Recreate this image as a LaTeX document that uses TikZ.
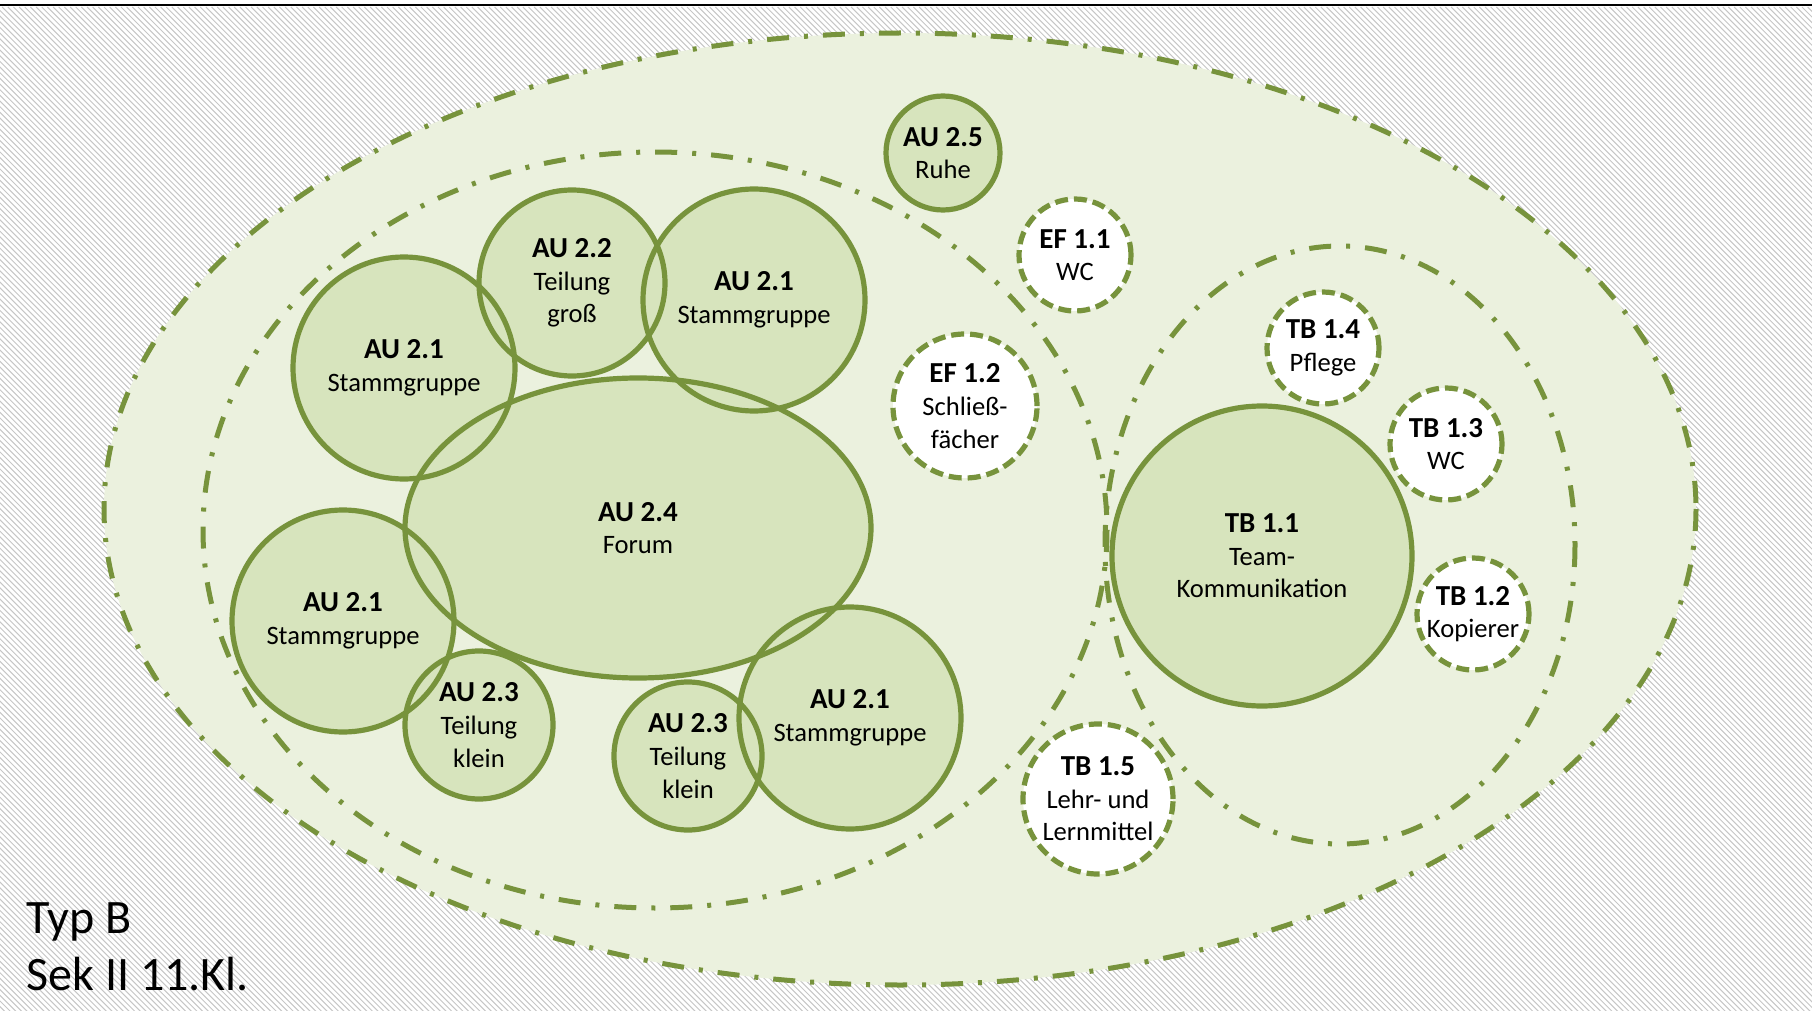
\documentclass[tikz,border=0pt]{standalone}
\usepackage{fontspec}
\setmainfont{Carlito}
\usetikzlibrary{shapes.geometric}

\definecolor{leafline}{HTML}{77933C}
\definecolor{leaffill}{HTML}{D7E4BD}
\definecolor{areafill}{HTML}{EBF1DE}
\newcommand\roomfont{\fontsize{13.3}{16.3}\selectfont}
\newcommand\hd[1]{{\fontsize{14.5}{16.3}\selectfont\bfseries #1}}

\tikzset{
  area/.style = {draw=leafline, line width=2.5pt, dash pattern=on 11pt off 7.5pt on 2pt off 7.5pt},
  room/.style = {circle, draw=leafline, line width=2.6pt, align=center, inner sep=0pt, font=\roomfont},
  aux/.style  = {room, fill=white, dash pattern=on 6.5pt off 3pt},
  hatch/.style = {gray!45, line width=0.5pt}
}

% name/x/y/radius/text
\def\rooms{au25/943/153/57/{\hd{AU 2.5}\\Ruhe},
  au22/572/283/93/{\hd{AU 2.2}\\Teilung\\groß},
  au21a/754/300/111/{\hd{AU 2.1}\\Stammgruppe},
  au21b/404/368/111/{\hd{AU 2.1}\\Stammgruppe},
  au21c/343/621/111/{\hd{AU 2.1}\\Stammgruppe},
  au23a/479/725/74/{\hd{AU 2.3}\\Teilung\\klein},
  au23b/688/756/74/{\hd{AU 2.3}\\Teilung\\klein},
  au21d/850/718/111/{\hd{AU 2.1}\\Stammgruppe},
  tb11/1262/556/150/{\hd{TB 1.1}\\Team-\\Kommunikation}}

\begin{document}
\begin{tikzpicture}[x=0.5pt, y=-0.5pt]
  \useasboundingbox (0,0) rectangle (1812,1011);
  % hatched ground
  \begin{scope}
    \clip (0,7) rectangle (1812,1011);
    \foreach \a in {-1011,-1005.34,...,1812}
      \draw[hatch] (\a,7) -- ++(1011,1011);
  \end{scope}
  \draw[line width=1.3pt] (0,5) -- (1812,5);

  % zones
  \path[area, fill=areafill] (900,509) ellipse (796 and 476);
  \draw[area] (655,530) ellipse (452 and 378);
  \draw[area] (1340,545) ellipse (235 and 299);

  % rooms: fills first, outlines on top
  \fill[leaffill] (638,528) ellipse (233 and 150);
  \foreach \n/\x/\y/\r/\t in \rooms
    \fill[leaffill] (\x,\y) circle (\r);
  \node[room, ellipse, minimum width=233pt, minimum height=150pt] (au24) at (638,528) {\hd{AU 2.4}\\Forum};
  \foreach \n/\x/\y/\r/\t in \rooms
    \node[room, minimum size=\r pt] (\n) at (\x,\y) {\t};

  \node[aux, minimum size=56pt] (ef11) at (1075,255) {\hd{EF 1.1}\\WC};
  \node[aux, minimum size=72pt] (ef12) at (965,406) {\hd{EF 1.2}\\Schließ-\\fächer};
  \node[aux, minimum size=56pt] (tb14) at (1323,348) {\hd{TB 1.4}\\Pflege};
  \node[aux, minimum size=56pt] (tb13) at (1446,444) {\hd{TB 1.3}\\WC};
  \node[aux, minimum size=56pt] (tb12) at (1473,614) {\hd{TB 1.2}\\Kopierer};
  \node[aux, minimum size=75pt] (tb15) at (1098,799) {\hd{TB 1.5}\\Lehr- und\\Lernmittel};

  \node[anchor=base west, align=left, inner sep=0pt, font=\fontsize{24}{28.5}\selectfont] (typ) at (26,990) {Typ B\\Sek II 11.Kl.};
\end{tikzpicture}
\end{document}
